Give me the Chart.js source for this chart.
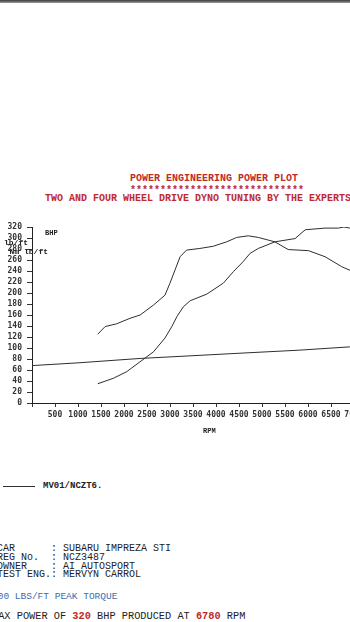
<!DOCTYPE html>
<html>
<head>
<meta charset="utf-8">
<script src="https://cdn.jsdelivr.net/npm/chart.js@4.4.0/dist/chart.umd.min.js"></script>
<style>
html, body { margin: 0; padding: 0; width: 350px; height: 622px; overflow: hidden; background: #fff; }
body { position: relative; font-family: "Liberation Mono", "DejaVu Sans Mono", monospace; color: #222; }
.t { position: absolute; white-space: pre; line-height: 1; }
.red { color: #bf2a2c; }
#topband { position: absolute; left: 0; top: 0; width: 350px; height: 3px; background: linear-gradient(#3a3a3a, #9a9a9a); }
#wrap { position: absolute; left: 0; top: 215px; width: 390px; height: 235px; }
#legendline { position: absolute; left: 3px; top: 486px; width: 32px; height: 1px; background: #333; }
</style>
</head>
<body>
<div id="topband"></div>

<div class="t red" style="left:130px;top:174px;font-size:10px;font-weight:bold">POWER ENGINEERING POWER PLOT</div>
<div class="t red" style="left:130px;top:186px;font-size:10px;font-weight:bold">*****************************</div>
<div class="t red" style="left:45px;top:194px;font-size:10px;font-weight:bold">TWO AND FOUR WHEEL DRIVE DYNO TUNING BY THE EXPERTS</div>

<div id="wrap"><canvas id="dyno"></canvas></div>

<div class="t" style="left:45px;top:230px;font-size:7px;font-weight:bold">BHP</div>
<div class="t" style="left:4px;top:239px;font-size:8px;font-weight:bold">lb/ft</div>
<div class="t" style="left:0px;top:248px;font-size:8px;font-weight:bold">  Nm lb/ft</div>
<div class="t" style="left:203px;top:428px;font-size:7px;font-weight:bold">RPM</div>

<div id="legendline"></div>
<div class="t" style="left:43px;top:482px;font-size:9px;font-weight:bold">MV01/NCZT6.</div>

<div class="t" style="left:-3px;top:544px;font-size:10px">CAR      : SUBARU IMPREZA STI</div>
<div class="t" style="left:-3px;top:553px;font-size:10px">REG No.  : NCZ3487</div>
<div class="t" style="left:-3px;top:562px;font-size:10px">OWNER    : AI AUTOSPORT</div>
<div class="t" style="left:-3px;top:570px;font-size:10px">TEST ENG.: MERVYN CARROL</div>
<div class="t" style="left:-8px;top:592px;font-size:9.5px;color:#3b6db3">300 LBS/FT PEAK TORQUE</div>
<div class="t" style="left:-8px;top:611px;font-size:10.3px">MAX POWER OF <b class="red">320</b> BHP PRODUCED AT <b class="red">6780</b> RPM</div>

<script>
// torque curve (lb/ft)
const rpmTorque = [1430, 1590, 1840, 2130, 2350, 2640, 2890, 3000, 3110, 3220, 3360, 3650, 3940, 4230, 4450, 4700, 4920, 5280, 5570, 6010, 6370, 6730, 7000];
const torqueLbFt = [125, 139, 144, 154, 160, 178, 196, 218, 242, 266, 278, 281, 285, 293, 301, 304, 301, 293, 279, 277, 266, 248, 238];

// power curve (bhp)
const rpmPower = [1430, 1770, 2060, 2350, 2640, 2890, 3040, 3150, 3290, 3440, 3800, 4160, 4380, 4590, 4740, 4920, 5280, 5720, 5940, 6370, 6660, 6780, 6910];
const powerBhp = [35, 45, 57, 75, 93, 118, 139, 157, 175, 186, 198, 218, 239, 257, 272, 281, 293, 299, 315, 318, 318, 320, 318];

// near-flat trace along the bottom
const rpmBase = [0, 1000, 2350, 3500, 4630, 5800, 6900, 7000];
const baseTrace = [68, 73, 81, 86, 91, 96, 102, 102];

// tick labels
const rpmTicks = [0, 500, 1000, 1500, 2000, 2500, 3000, 3500, 4000, 4500, 5000, 5500, 6000, 6500, 7000];
const valueTicks = [0, 20, 40, 60, 80, 100, 120, 140, 160, 180, 200, 220, 240, 260, 280, 300, 320];

function toPoints(xs, ys) {
    return xs.map(function (x, i) { return { x: x, y: ys[i] }; });
}

const lineStyle = { borderColor: '#2e2e2e', borderWidth: 1, pointRadius: 0, tension: 0, fill: false };
const tickFont = { family: 'DejaVu Sans Mono', size: 8, weight: 'bold' };

const ctx = document.getElementById('dyno').getContext('2d');
const dynoChart = new Chart(ctx, {
    type: 'line',
    data: {
        datasets: [
            Object.assign({ label: 'Torque', data: toPoints(rpmTorque, torqueLbFt) }, lineStyle),
            Object.assign({ label: 'Power', data: toPoints(rpmPower, powerBhp) }, lineStyle),
            Object.assign({ label: 'Trace', data: toPoints(rpmBase, baseTrace) }, lineStyle)
        ]
    },
    options: {
        responsive: true,
        maintainAspectRatio: false,
        animation: false,
        layout: { padding: { top: 12, right: 36, left: 0, bottom: 0 } },
        plugins: { legend: { display: false }, tooltip: { enabled: false } },
        scales: {
            x: {
                type: 'linear',
                min: 0,
                max: 7000,
                afterBuildTicks: function (scale) { scale.ticks = rpmTicks.map(function (v) { return { value: v }; }); },
                afterFit: function (scale) { scale.height = 47; },
                ticks: {
                    autoSkip: false,
                    maxRotation: 0,
                    padding: 3,
                    color: '#333',
                    font: tickFont,
                    callback: function (v) { return v === 0 ? '' : String(v); }
                },
                grid: { drawOnChartArea: false, drawTicks: true, tickLength: 4, color: '#333' },
                border: { color: '#222', width: 1 }
            },
            y: {
                min: 0,
                max: 320,
                afterBuildTicks: function (scale) { scale.ticks = valueTicks.map(function (v) { return { value: v }; }); },
                afterFit: function (scale) { scale.width = 32; },
                ticks: { autoSkip: false, padding: 5, color: '#333', font: tickFont },
                grid: { drawOnChartArea: false, drawTicks: true, tickLength: 5, color: '#333' },
                border: { color: '#222', width: 1 }
            }
        }
    }
});
</script>
</body>
</html>
